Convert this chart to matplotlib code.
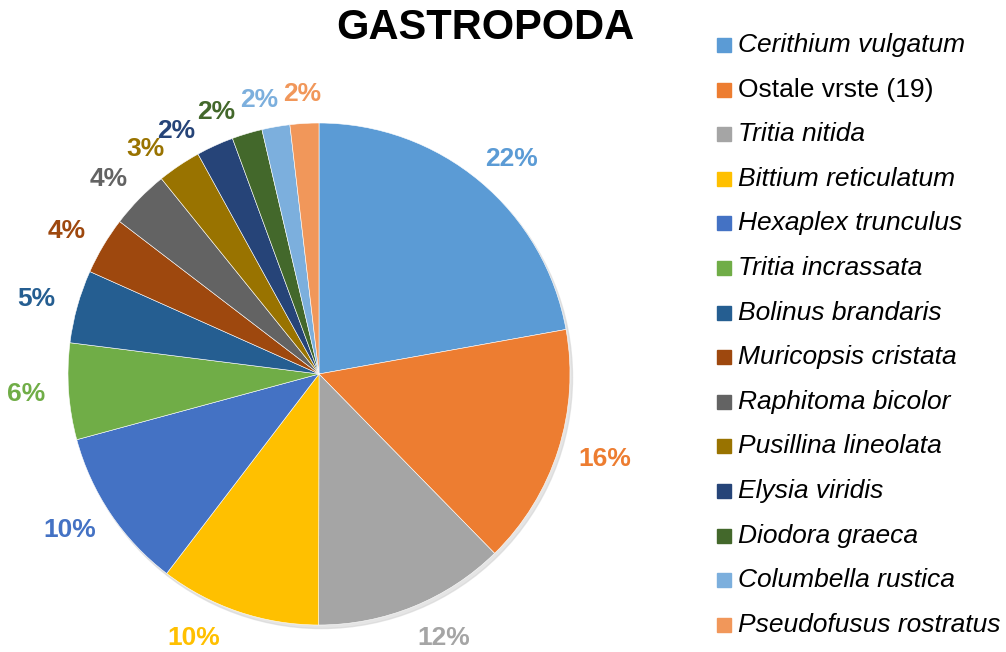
import matplotlib; matplotlib.use("Agg")
import matplotlib.pyplot as plt
from matplotlib.patches import Rectangle, Circle
import numpy as np

plt.rcParams["font.family"] = ["Liberation Sans", "DejaVu Sans"]

species = ["Cerithium vulgatum", "Ostale vrste (19)", "Tritia nitida", "Bittium reticulatum",
           "Hexaplex trunculus", "Tritia incrassata", "Bolinus brandaris", "Muricopsis cristata",
           "Raphitoma bicolor", "Pusillina lineolata", "Elysia viridis", "Diodora graeca",
           "Columbella rustica", "Pseudofusus rostratus"]
share = [22.15, 15.5, 12.35, 10.35, 10.4, 6.2, 4.7, 3.7, 3.8, 2.8, 2.4, 1.95, 1.8, 1.85]
colors = ["#5B9BD5", "#ED7D31", "#A5A5A5", "#FFC000", "#4472C4", "#70AD47", "#255E91",
          "#9E480E", "#636363", "#997300", "#264478", "#43682B", "#7CAFDD", "#F1975A"]
italic = [True, False] + [True] * 12

W, H = 1006, 652
fig = plt.figure(figsize=(W / 100, H / 100), dpi=100)
fig.patch.set_facecolor("white")

# pie centre (319, 374) px, radius 251 px
cx, cy, r = 319, 374, 251
side = 560
ax = fig.add_axes([(cx - side / 2) / W, (H - cy - side / 2) / H, side / W, side / H])
lim = side / 2 / r

# faint shadow like Excel
ax.add_patch(Circle((0.010, -0.014), 1.0, color="#d4d4d4", alpha=0.6, zorder=0))

wedges, texts, autotexts = ax.pie(share, colors=colors, startangle=90, counterclock=False,
                                  autopct="%.0f%%", pctdistance=1.1, frame=True,
                                  wedgeprops=dict(edgecolor="white", linewidth=0.4),
                                  textprops=dict(fontsize=19, fontweight="bold"))
ax.set_xlim(-lim, lim); ax.set_ylim(-lim, lim); ax.set_aspect("equal"); ax.axis("off")

# place labels like Excel "outside end": box pushed out from an anchor circle
fig.canvas.draw()
rend = fig.canvas.get_renderer()
d = 274  # px
pos, widths = [], []
for w, t, c in zip(wedges, autotexts, colors):
    t.set_color(c)
    th = np.deg2rad((w.theta1 + w.theta2) / 2)
    tw = t.get_window_extent(rend).width
    x = d * np.cos(th) + np.cos(th) * tw / 2
    y = d * np.sin(th) + np.sin(th) * 6
    if y < -255:  # keep inside chart area, slide along the circle
        D = max(np.hypot(x, y), 292)
        y = -264
        x = np.sign(x) * np.sqrt(D ** 2 - y ** 2)
    pos.append([x, y]); widths.append(tw)

# push crowded small labels counter-clockwise until they no longer collide
for i in range(len(pos) - 2, 0, -1):
    x, y = pos[i]; D = np.hypot(x, y); phi = np.arctan2(y, x)
    xn, yn = pos[i + 1]
    while (abs(x - xn) < (widths[i] + widths[i + 1]) / 2 + 3) and abs(y - yn) < 18:
        phi += np.deg2rad(0.5)
        x, y = D * np.cos(phi), D * np.sin(phi)
    pos[i] = [x, y]

for t, (x, y) in zip(autotexts, pos):
    t.set_position((x / r, y / r))
    t.set_ha("center"); t.set_va("center")

fig.text(485 / W, 1 - 28 / H, "GASTROPODA", ha="center", va="center",
         fontsize=30, fontweight="bold", color="black")

# legend
for i, (name, c, it) in enumerate(zip(species, colors, italic)):
    y = 45 + i * 44.6
    fig.patches.append(Rectangle((717 / W, 1 - (y + 7) / H), 14 / W, 14 / H,
                                 transform=fig.transFigure, color=c, figure=fig))
    fig.text(738 / W, 1 - y / H, name, ha="left", va="center", fontsize=19,
             style="italic" if it else "normal", color="black")

fig.savefig("out.png", dpi=100, facecolor="white")
